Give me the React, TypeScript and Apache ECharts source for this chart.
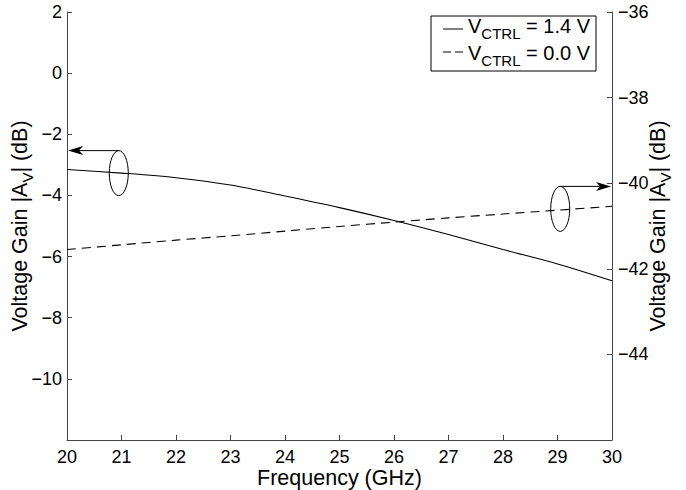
import React, { useEffect, useRef } from "react";
import * as echarts from "echarts";

// Frequency sweep (GHz)
const frequency = [20, 21, 22, 23, 24, 25, 26, 27, 28, 29, 30];
// |Av| at VCTRL = 1.4 V, left axis (dB)
const gainHigh = [-3.15, -3.27, -3.42, -3.66, -4.02, -4.4, -4.82, -5.28, -5.77, -6.24, -6.79];
// |Av| at VCTRL = 0.0 V, right axis (dB)
const gainLow = [-41.55, -41.44, -41.33, -41.23, -41.12, -41.01, -40.91, -40.81, -40.72, -40.63, -40.54];

const seriesNames = ["{v|V}{sub|CTRL}{v| = 1.4 V}", "{v|V}{sub|CTRL}{v| = 0.0 V}"];

const FONT = "'Liberation Sans', Arial, Helvetica, sans-serif";
const AXIS_COLOR = "#444";

const fmt = (v: number, hide: number) =>
  v === hide ? "" : String(v).replace("-", "\u2212");

export default function App() {
  const ref = useRef<HTMLDivElement>(null);

  useEffect(() => {
    if (!ref.current) return;
    const chart = echarts.init(ref.current, null, { renderer: "svg" });

    const titleRich = {
      t: { fontSize: 21.5, fontFamily: FONT, color: "#000", lineHeight: 24, verticalAlign: "bottom" as const, padding: [0, 0, 4, 0] },
      sub: { fontSize: 15, fontFamily: FONT, color: "#000", lineHeight: 16, verticalAlign: "bottom" as const },
    };
    const yTitle = "{t|Voltage Gain |A}{sub|V}{t|| (dB)}";

    chart.setOption({
      animation: false,
      backgroundColor: "#fff",
      textStyle: { fontFamily: FONT },
      grid: { left: 67, right: 74, top: 12, bottom: 50, containLabel: false, outerBoundsMode: "none" },
      legend: {
        left: 431,
        top: 16,
        orient: "vertical",
        borderColor: "#000",
        borderWidth: 1,
        borderRadius: 0,
        padding: [0, 6, 1, 12],
        itemGap: 0,
        itemWidth: 20,
        itemHeight: 14,
        itemStyle: { opacity: 0 },
        data: seriesNames.map((n) => ({ name: n, icon: "none" })),
        formatter: (n: string) => n,
        textStyle: {
          rich: {
            v: { fontSize: 20, fontFamily: FONT, color: "#000", lineHeight: 16, padding: [0, 0, 7, 0], verticalAlign: "bottom" },
            sub: { fontSize: 15, fontFamily: FONT, color: "#000", lineHeight: 15, padding: [0, 0, 2, 0], verticalAlign: "bottom" },
          },
        },
      },
      xAxis: {
        type: "value",
        min: 20,
        max: 30,
        interval: 1,
        name: "Frequency (GHz)",
        nameLocation: "middle",
        nameGap: 27,
        nameMoveOverlap: false,
        nameTextStyle: { fontSize: 21.5, fontFamily: FONT, color: "#000" },
        axisLine: { onZero: false, lineStyle: { color: AXIS_COLOR, width: 1 } },
        axisTick: { inside: true, length: 5, lineStyle: { color: AXIS_COLOR } },
        axisLabel: { fontSize: 18, color: "#000", margin: 8, fontFamily: FONT },
        splitLine: { show: false },
      },
      yAxis: [
        {
          type: "value",
          position: "left",
          min: -12,
          max: 2,
          interval: 2,
          name: yTitle,
          nameLocation: "middle",
          nameRotate: 90,
          nameGap: 32,
          nameMoveOverlap: false,
          nameTextStyle: { rich: titleRich },
          axisLine: { show: true, onZero: false, lineStyle: { color: AXIS_COLOR, width: 1 } },
          axisTick: { show: true, inside: true, length: 5, lineStyle: { color: AXIS_COLOR } },
          axisLabel: { fontSize: 18, color: "#000", margin: 5, fontFamily: FONT, formatter: (v: number) => fmt(v, -12) },
          splitLine: { show: false },
        },
        {
          type: "value",
          position: "right",
          min: -46,
          max: -36,
          interval: 2,
          name: yTitle,
          nameLocation: "middle",
          nameRotate: 90,
          nameGap: 37,
          nameMoveOverlap: false,
          nameTextStyle: { rich: titleRich },
          axisLine: { show: true, onZero: false, lineStyle: { color: AXIS_COLOR, width: 1 } },
          axisTick: { show: true, inside: true, length: 5, lineStyle: { color: AXIS_COLOR } },
          axisLabel: { fontSize: 18, color: "#000", margin: 6, fontFamily: FONT, formatter: (v: number) => fmt(v, -46) },
          splitLine: { show: false },
        },
      ],
      series: [
        {
          name: seriesNames[0],
          type: "line",
          yAxisIndex: 0,
          data: frequency.map((f, i) => [f, gainHigh[i]]),
          showSymbol: false,
          symbol: "none",
          smooth: 0.3,
          lineStyle: { color: "#000", width: 1.1, type: "solid" },
          itemStyle: { color: "#000" },
        },
        {
          name: seriesNames[1],
          type: "line",
          yAxisIndex: 1,
          data: frequency.map((f, i) => [f, gainLow[i]]),
          showSymbol: false,
          symbol: "none",
          smooth: 0.3,
          lineStyle: { color: "#000", width: 1.1, type: [9, 6] },
          itemStyle: { color: "#000" },
        },
      ],
    });

    // Ellipse + arrow callouts pointing each curve to its axis
    const toPx = (yIdx: number, x: number, y: number) =>
      chart.convertToPixel({ xAxisIndex: 0, yAxisIndex: yIdx }, [x, y]) as number[];

    const leftC = toPx(0, 20.95, -3.27);
    const rightC = toPx(1, 29.05, -40.6);
    const leftAxisX = toPx(0, 20, 0)[0];
    const rightAxisX = toPx(0, 30, 0)[0];
    const rx = 9.5;
    const ry = 22.5;

    const arrowHead = (tipX: number, y: number, dir: number) => ({
      type: "polygon",
      shape: {
        points: [
          [tipX, y],
          [tipX + dir * 15, y - 4.5],
          [tipX + dir * 11, y],
          [tipX + dir * 15, y + 4.5],
        ],
      },
      style: { fill: "#000" },
    });

    // Legend line samples beside each entry
    const legendTop = 16;
    const legendLeft = 431;

    chart.setOption({
      graphic: [
        { type: "ellipse", shape: { cx: leftC[0], cy: leftC[1], rx, ry }, style: { fill: "none", stroke: "#000", lineWidth: 1 } },
        { type: "line", shape: { x1: leftC[0], y1: leftC[1] - ry, x2: leftAxisX + 6, y2: leftC[1] - ry }, style: { stroke: "#000", lineWidth: 1 } },
        arrowHead(leftAxisX + 1, leftC[1] - ry, 1),
        { type: "ellipse", shape: { cx: rightC[0], cy: rightC[1], rx, ry }, style: { fill: "none", stroke: "#000", lineWidth: 1 } },
        { type: "line", shape: { x1: rightC[0], y1: rightC[1] - ry, x2: rightAxisX - 6, y2: rightC[1] - ry }, style: { stroke: "#000", lineWidth: 1 } },
        arrowHead(rightAxisX - 1, rightC[1] - ry, -1),
        { type: "line", shape: { x1: legendLeft + 12, y1: legendTop + 13, x2: legendLeft + 32, y2: legendTop + 13 }, style: { stroke: "#000", lineWidth: 1 } },
        { type: "line", shape: { x1: legendLeft + 12, y1: legendTop + 36, x2: legendLeft + 32, y2: legendTop + 36 }, style: { stroke: "#000", lineWidth: 1, lineDash: [8, 4] } },
      ],
    });

    return () => chart.dispose();
  }, []);

  return <div ref={ref} style={{ width: 686, height: 490, position: "absolute", left: 0, top: 0 }} />;
}
